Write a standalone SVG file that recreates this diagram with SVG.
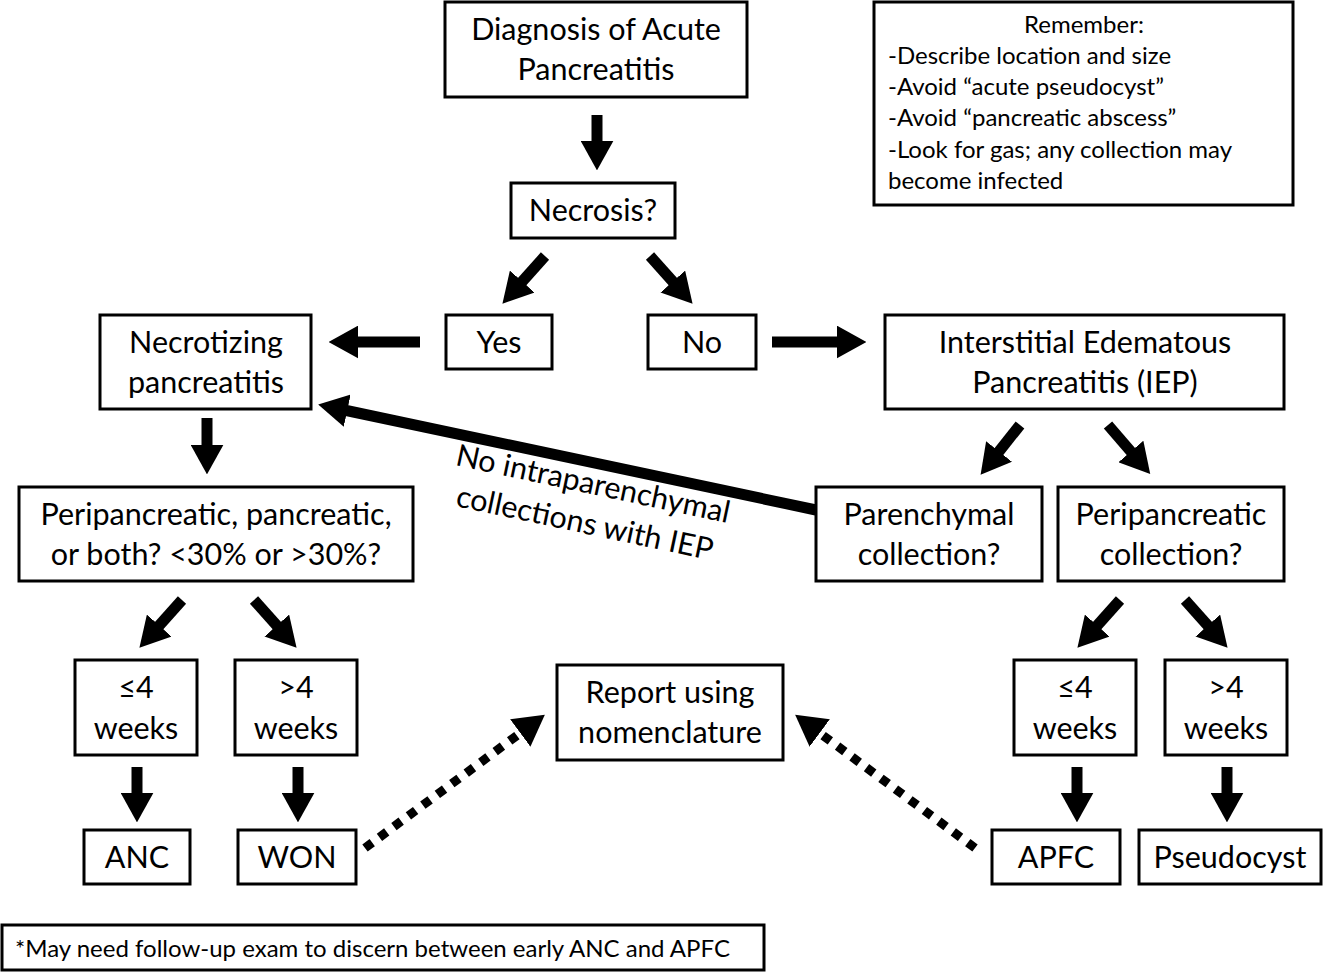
<svg xmlns="http://www.w3.org/2000/svg" width="1325" height="974" viewBox="0 0 1325 974">
<defs>
<style>
.box{fill:#fff;stroke:#000;stroke-width:3}
.t{font-family:Lato,"Liberation Sans",sans-serif;font-size:30.5px;fill:#000;text-anchor:middle}
.s{font-family:Lato,"Liberation Sans",sans-serif;font-size:24px;fill:#000}
.a{stroke:#000;stroke-width:11;fill:none;marker-end:url(#h)}
.d{stroke:#000;stroke-width:9;fill:none;stroke-dasharray:9 9;marker-end:url(#h2)}
</style>
<marker id="h" viewBox="0 0 9 10" refX="1" refY="5" markerWidth="2.7" markerHeight="3" orient="auto">
<path d="M0,0 L9,5 L0,10 Z" fill="#000"/>
</marker>
<marker id="h2" viewBox="0 0 9 10" refX="1" refY="5" markerWidth="3.4" markerHeight="3.8" orient="auto">
<path d="M0,0 L9,5 L0,10 Z" fill="#000"/>
</marker>
</defs>
<rect width="1325" height="974" fill="#fff"/>
<g id="connectors">
<line class="a" x1="597" y1="115" x2="597" y2="144"/>
<line class="a" x1="545" y1="256" x2="520" y2="284"/>
<line class="a" x1="650" y1="256" x2="675" y2="284"/>
<line class="a" x1="420" y1="342" x2="355" y2="342"/>
<line class="a" x1="772" y1="342" x2="840" y2="342"/>
<line class="a" x1="207" y1="418" x2="207" y2="448"/>
<line class="a" x1="816" y1="510" x2="344" y2="410"/>
<line class="a" x1="1020" y1="425" x2="997" y2="454"/>
<line class="a" x1="1108" y1="425" x2="1133" y2="454"/>
<line class="a" x1="182" y1="600" x2="157" y2="628"/>
<line class="a" x1="254" y1="600" x2="279" y2="628"/>
<line class="a" x1="137" y1="767" x2="137" y2="796"/>
<line class="a" x1="298" y1="767" x2="298" y2="796"/>
<line class="a" x1="1120" y1="600" x2="1095" y2="628"/>
<line class="a" x1="1185" y1="600" x2="1210" y2="628"/>
<line class="a" x1="1077" y1="767" x2="1077" y2="796"/>
<line class="a" x1="1227" y1="767" x2="1227" y2="796"/>
<line class="d" x1="365" y1="848" x2="523" y2="731"/>
<line class="d" x1="975" y1="848" x2="817" y2="731"/>
<text class="t" transform="translate(591,494) rotate(12)"><tspan x="0" y="0">No intraparenchymal</tspan><tspan x="0" y="40">collections with IEP</tspan></text>
</g>
<g id="diagnosis"><rect class="box" x="445" y="2" width="302" height="95"/><text class="t" x="596" y="40">Diagnosis of Acute</text><text class="t" x="596" y="80">Pancreatitis</text></g>
<g id="necrosis"><rect class="box" x="511" y="183" width="164" height="55"/><text class="t" x="593" y="221">Necrosis?</text></g>
<g id="yes"><rect class="box" x="446" y="315" width="106" height="54"/><text class="t" x="499" y="353">Yes</text></g>
<g id="no"><rect class="box" x="648" y="315" width="108" height="54"/><text class="t" x="702" y="353">No</text></g>
<g id="necrotizing"><rect class="box" x="100" y="315" width="211" height="94"/><text class="t" x="206" y="353">Necrotizing</text><text class="t" x="206" y="393">pancreatitis</text></g>
<g id="iep"><rect class="box" x="885" y="315" width="399" height="94"/><text class="t" x="1085" y="353">Interstitial Edematous</text><text class="t" x="1085" y="393">Pancreatitis (IEP)</text></g>
<g id="peri-both"><rect class="box" x="19" y="487" width="394" height="94"/><text class="t" x="216" y="525">Peripancreatic, pancreatic,</text><text class="t" x="216" y="565">or both? &lt;30% or &gt;30%?</text></g>
<g id="parenchymal"><rect class="box" x="816" y="487" width="226" height="94"/><text class="t" x="929" y="525">Parenchymal</text><text class="t" x="929" y="565">collection?</text></g>
<g id="peripancreatic"><rect class="box" x="1058" y="487" width="226" height="94"/><text class="t" x="1171" y="525">Peripancreatic</text><text class="t" x="1171" y="565">collection?</text></g>
<g id="le4-left"><rect class="box" x="75" y="660" width="122" height="95"/><text class="t" x="136" y="698">≤4</text><text class="t" x="136" y="739">weeks</text></g>
<g id="gt4-left"><rect class="box" x="235" y="660" width="122" height="95"/><text class="t" x="296" y="698">&gt;4</text><text class="t" x="296" y="739">weeks</text></g>
<g id="report"><rect class="box" x="557" y="665" width="226" height="95"/><text class="t" x="670" y="703">Report using</text><text class="t" x="670" y="743">nomenclature</text></g>
<g id="le4-right"><rect class="box" x="1014" y="660" width="122" height="95"/><text class="t" x="1075" y="698">≤4</text><text class="t" x="1075" y="739">weeks</text></g>
<g id="gt4-right"><rect class="box" x="1165" y="660" width="122" height="95"/><text class="t" x="1226" y="698">&gt;4</text><text class="t" x="1226" y="739">weeks</text></g>
<g id="anc"><rect class="box" x="84" y="830" width="106" height="54"/><text class="t" x="137" y="868">ANC</text></g>
<g id="won"><rect class="box" x="238" y="830" width="118" height="54"/><text class="t" x="297" y="868">WON</text></g>
<g id="apfc"><rect class="box" x="992" y="830" width="128" height="54"/><text class="t" x="1056" y="868">APFC</text></g>
<g id="pseudocyst"><rect class="box" x="1139" y="830" width="182" height="54"/><text class="t" x="1230" y="868">Pseudocyst</text></g>
<g id="remember"><rect class="box" x="874" y="2" width="419" height="203"/>
<text class="s" x="1084" y="33" text-anchor="middle">Remember:</text>
<text class="s" x="888" y="64">-Describe location and size</text>
<text class="s" x="888" y="95">-Avoid “acute pseudocyst”</text>
<text class="s" x="888" y="126">-Avoid “pancreatic abscess”</text>
<text class="s" x="888" y="158">-Look for gas; any collection may</text>
<text class="s" x="888" y="189">become infected</text>
</g>
<g id="footnote"><rect class="box" x="2" y="925" width="762" height="45"/><text class="s" x="15" y="957" textLength="715" lengthAdjust="spacingAndGlyphs">*May need follow-up exam to discern between early ANC and APFC</text></g>
</svg>
